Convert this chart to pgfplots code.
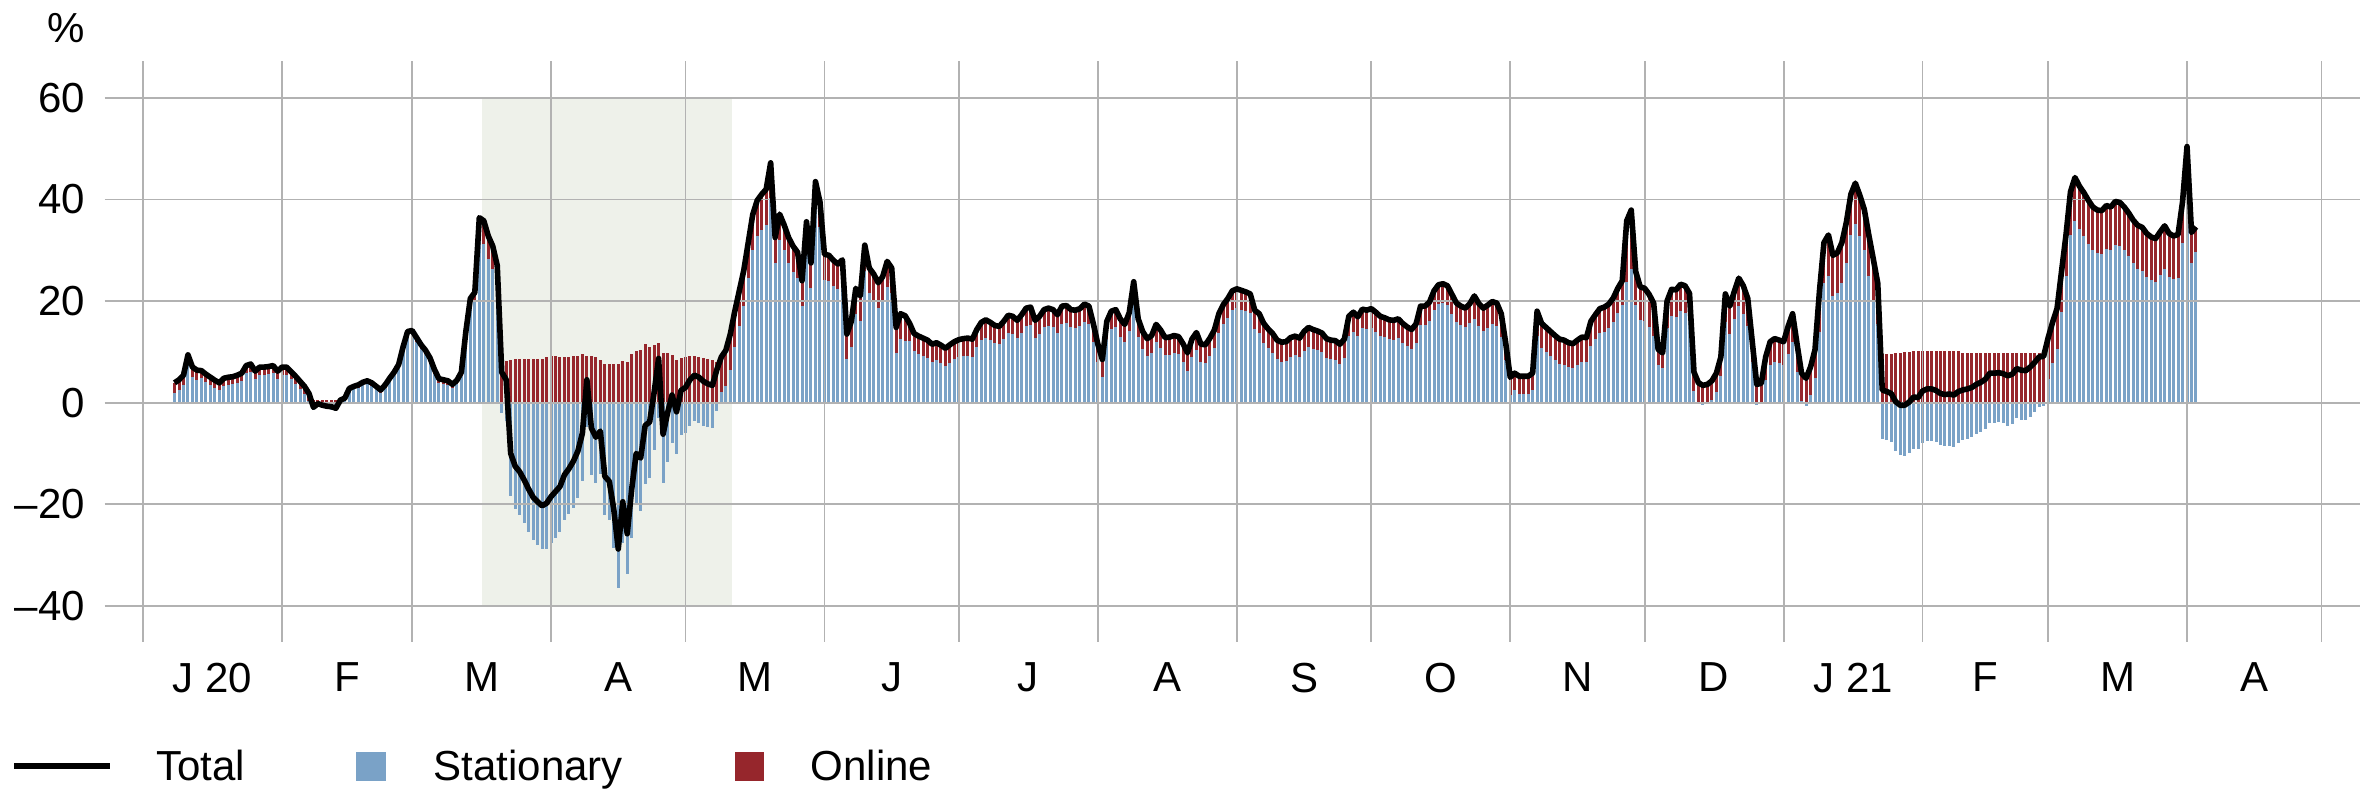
\documentclass[border=0pt]{standalone}
\usepackage{fontspec}
\setmainfont{Liberation Sans}
\usepackage{pgfplots}
\usepackage{pgfplotstable}
\pgfplotsset{compat=1.18}

\definecolor{statblue}{RGB}{122,162,199}
\definecolor{onlred}{RGB}{150,38,44}
\definecolor{gridgray}{RGB}{178,178,178}
\definecolor{lockdown}{RGB}{238,241,234}

% grid above the bars, total line above the grid
\pgfplotsset{
  layers/chartlayers/.define layer set={axis background,pre main,axis grid,axis ticks,axis lines,axis tick labels,main,axis descriptions,axis foreground}{},
}

% d = day (0 = 1 Jan 2020), t = total, o = online contribution (pp)
\pgfplotstableread[row sep=\\]{
d t o \\
7 3.9 2.0 \\ 8 4.5 2.0 \\ 9 5.4 2.0 \\ 10 9.4 2.0 \\ 11 7.0 2.0 \\ 12 6.4 2.0 \\
13 6.3 1.5 \\ 14 5.6 1.5 \\ 15 5.0 1.5 \\ 16 4.4 1.5 \\ 17 3.9 1.5 \\ 18 4.8 1.5 \\ 19 5.0 1.5 \\ 20 5.1 1.5 \\
21 5.4 1.5 \\ 22 5.8 1.5 \\ 23 7.3 1.5 \\ 24 7.6 1.5 \\ 25 6.2 1.5 \\ 26 7.0 1.5 \\ 27 7.0 1.5 \\ 28 7.1 1.5 \\
29 7.3 1.5 \\ 30 6.2 1.5 \\ 31 7.0 1.5 \\ 32 7.0 1.5 \\ 33 6.1 1.5 \\ 34 5.2 1.5 \\ 35 4.2 1.5 \\ 36 3.2 1.5 \\
37 1.8 1.5 \\ 38 -0.9 0.6 \\ 39 -0.2 0.6 \\ 40 -0.5 0.6 \\ 41 -0.7 0.6 \\ 42 -0.8 0.6 \\ 43 -1.1 0.6 \\ 44 0.5 0.6 \\
45 0.9 0.6 \\ 46 2.8 0.6 \\ 47 3.2 0.6 \\ 48 3.5 0.6 \\ 49 4.0 0.6 \\ 50 4.3 0.6 \\ 51 3.9 0.6 \\ 52 3.2 0.6 \\
53 2.5 0.6 \\ 54 3.5 0.6 \\ 55 4.8 0.6 \\ 56 6.0 0.6 \\ 57 7.5 0.6 \\ 58 11.0 0.8 \\ 59 14.0 0.8 \\ 60 14.2 0.8 \\
61 12.8 0.8 \\ 62 11.4 0.8 \\ 63 10.3 0.8 \\ 64 8.8 0.8 \\ 65 6.5 0.8 \\ 66 4.7 0.8 \\ 67 4.5 0.8 \\ 68 4.3 0.8 \\
69 3.6 0.8 \\ 70 4.4 0.8 \\ 71 6.0 0.8 \\ 72 14.0 1.5 \\ 73 20.5 1.5 \\ 74 21.7 1.5 \\ 75 36.4 4.5 \\ 76 35.8 4.5 \\
77 32.8 4.5 \\ 78 30.8 4.5 \\ 79 27.0 4.5 \\ 80 6.0 8.0 \\ 81 4.5 8.2 \\ 82 -10.0 8.4 \\ 83 -12.5 8.5 \\ 84 -13.6 8.5 \\
85 -15.2 8.5 \\ 86 -17.0 8.5 \\ 87 -18.6 8.5 \\ 88 -19.5 8.5 \\ 89 -20.3 8.5 \\ 90 -19.8 9.0 \\ 91 -18.5 9.2 \\ 92 -17.5 9.2 \\
93 -16.5 8.9 \\ 94 -14.2 8.9 \\ 95 -13.0 9.0 \\ 96 -11.5 9.2 \\ 97 -9.5 9.2 \\ 98 -6.0 9.5 \\ 99 4.5 9.2 \\ 100 -5.0 9.2 \\
101 -6.8 9.0 \\ 102 -5.6 8.4 \\ 103 -14.5 7.6 \\ 104 -15.5 7.6 \\ 105 -21.0 7.6 \\ 106 -28.8 7.7 \\ 107 -19.5 8.2 \\ 108 -25.8 8.0 \\
109 -17.0 9.6 \\ 110 -10.0 10.2 \\ 111 -10.9 10.4 \\ 112 -4.5 11.6 \\ 113 -3.8 11.0 \\ 114 2.0 11.3 \\ 115 8.7 11.8 \\ 116 -6.2 9.7 \\
117 -2.0 9.7 \\ 118 1.5 9.4 \\ 119 -1.8 8.4 \\ 120 2.4 8.8 \\ 121 3.0 9.0 \\ 122 4.5 9.1 \\ 123 5.4 9.1 \\ 124 5.0 9.0 \\
125 4.2 8.7 \\ 126 3.7 8.5 \\ 127 3.4 8.3 \\ 128 6.5 8.1 \\ 129 9.0 7.0 \\ 130 10.3 7.0 \\ 131 13.5 7.0 \\ 132 18.0 7.0 \\
133 22.0 7.0 \\ 134 26.0 7.0 \\ 135 31.5 7.0 \\ 136 37.0 7.0 \\ 137 39.8 7.0 \\ 138 41.0 7.0 \\ 139 42.0 7.0 \\ 140 47.2 7.0 \\
141 32.5 5.0 \\ 142 37.1 5.0 \\ 143 35.0 5.0 \\ 144 32.5 5.0 \\ 145 30.8 5.0 \\ 146 29.6 5.0 \\ 147 24.0 5.0 \\ 148 35.6 5.0 \\
149 27.5 5.0 \\ 150 43.5 5.0 \\ 151 39.5 5.0 \\ 152 29.2 5.0 \\ 153 29.0 5.0 \\ 154 28.0 5.0 \\ 155 27.3 5.0 \\ 156 28.1 5.0 \\
157 13.5 5.0 \\ 158 16.0 5.0 \\ 159 22.5 5.0 \\ 160 21.0 5.0 \\ 161 31.0 5.0 \\ 162 26.5 5.0 \\ 163 25.3 5.0 \\ 164 23.6 5.0 \\
165 24.8 5.0 \\ 166 27.8 5.0 \\ 167 26.5 5.0 \\ 168 14.8 5.0 \\ 169 17.5 5.0 \\ 170 17.1 5.0 \\ 171 15.6 3.5 \\ 172 13.6 3.5 \\
173 13.1 3.5 \\ 174 12.7 3.5 \\ 175 12.3 3.5 \\ 176 11.5 3.5 \\ 177 11.8 3.5 \\ 178 11.3 3.5 \\ 179 10.7 3.5 \\ 180 11.4 3.5 \\
181 12.0 3.5 \\ 182 12.4 3.5 \\ 183 12.6 3.5 \\ 184 12.7 3.5 \\ 185 12.5 3.5 \\ 186 14.4 3.5 \\ 187 15.8 3.5 \\ 188 16.3 3.5 \\
189 15.8 3.5 \\ 190 15.2 3.5 \\ 191 15.0 3.5 \\ 192 16.0 3.5 \\ 193 17.2 3.5 \\ 194 17.0 3.5 \\ 195 16.2 3.5 \\ 196 17.3 3.5 \\
197 18.6 3.5 \\ 198 18.8 3.5 \\ 199 16.2 3.5 \\ 200 17.0 3.5 \\ 201 18.3 3.5 \\ 202 18.6 3.5 \\ 203 18.3 3.5 \\ 204 17.3 3.5 \\
205 19.0 3.5 \\ 206 19.1 3.5 \\ 207 18.3 3.5 \\ 208 18.2 3.5 \\ 209 18.5 3.5 \\ 210 19.4 3.5 \\ 211 19.0 3.5 \\ 212 15.5 3.5 \\
213 11.5 3.5 \\ 214 8.5 3.5 \\ 215 16.0 3.5 \\ 216 18.0 3.5 \\ 217 18.3 3.5 \\ 218 16.5 3.5 \\ 219 15.4 3.5 \\ 220 17.7 3.5 \\
221 23.8 3.5 \\ 222 16.5 3.5 \\ 223 14.0 3.5 \\ 224 12.6 3.5 \\ 225 13.2 3.5 \\ 226 15.4 3.5 \\ 227 14.3 3.5 \\ 228 12.8 3.5 \\
229 12.9 3.5 \\ 230 13.2 3.5 \\ 231 13.0 3.5 \\ 232 11.6 3.5 \\ 233 9.8 3.5 \\ 234 12.5 3.5 \\ 235 13.8 3.5 \\ 236 11.5 3.5 \\
237 11.4 3.5 \\ 238 12.7 3.5 \\ 239 14.3 3.5 \\ 240 17.5 3.8 \\ 241 19.3 3.8 \\ 242 20.5 3.8 \\ 243 22.0 3.8 \\ 244 22.4 3.8 \\
245 22.1 3.8 \\ 246 21.8 3.8 \\ 247 21.4 3.8 \\ 248 18.2 3.8 \\ 249 17.5 3.8 \\ 250 15.6 3.8 \\ 251 14.5 3.8 \\ 252 13.6 3.8 \\
253 12.3 3.8 \\ 254 11.9 3.8 \\ 255 12.0 3.8 \\ 256 12.8 3.8 \\ 257 13.1 3.8 \\ 258 12.7 3.8 \\ 259 14.0 3.8 \\ 260 14.8 3.8 \\
261 14.4 3.8 \\ 262 14.1 3.8 \\ 263 13.7 3.8 \\ 264 12.6 3.8 \\ 265 12.3 3.8 \\ 266 12.2 3.8 \\ 267 11.5 3.8 \\ 268 12.5 3.8 \\
269 17.0 3.8 \\ 270 17.8 3.8 \\ 271 16.9 3.8 \\ 272 18.4 3.8 \\ 273 18.2 3.8 \\ 274 18.5 3.8 \\ 275 17.8 3.8 \\ 276 17.0 3.8 \\
277 16.7 3.8 \\ 278 16.3 3.8 \\ 279 16.2 3.8 \\ 280 16.5 3.8 \\ 281 15.6 3.8 \\ 282 14.9 3.8 \\ 283 14.4 3.8 \\ 284 15.5 3.8 \\
285 19.0 3.8 \\ 286 19.0 3.8 \\ 287 19.8 3.8 \\ 288 22.0 3.8 \\ 289 23.2 3.8 \\ 290 23.4 3.8 \\ 291 23.0 3.8 \\ 292 21.3 3.8 \\
293 19.6 3.8 \\ 294 19.0 3.8 \\ 295 18.6 3.8 \\ 296 19.5 3.8 \\ 297 21.0 4.5 \\ 298 19.5 4.5 \\ 299 18.6 4.5 \\ 300 19.2 4.5 \\
301 19.9 4.5 \\ 302 19.6 4.5 \\ 303 17.5 4.5 \\ 304 11.7 3.4 \\ 305 5.0 3.4 \\ 306 5.8 3.4 \\ 307 5.2 3.4 \\ 308 5.2 3.4 \\
309 5.2 3.4 \\ 310 5.8 3.4 \\ 311 18.0 4.8 \\ 312 15.6 4.8 \\ 313 14.8 4.8 \\ 314 14.0 4.8 \\ 315 13.2 4.8 \\ 316 12.5 4.8 \\
317 12.3 4.8 \\ 318 11.8 4.8 \\ 319 11.6 4.8 \\ 320 12.3 4.8 \\ 321 12.9 4.8 \\ 322 12.8 4.8 \\ 323 16.0 4.8 \\ 324 17.3 4.8 \\
325 18.5 4.8 \\ 326 18.8 4.8 \\ 327 19.4 4.8 \\ 328 20.6 4.8 \\ 329 22.5 4.8 \\ 330 24.0 4.8 \\ 331 35.8 12.0 \\ 332 37.9 11.5 \\
333 25.8 6.5 \\ 334 22.8 6.5 \\ 335 22.5 6.5 \\ 336 21.3 6.5 \\ 337 19.6 6.5 \\ 338 10.5 3.0 \\ 339 9.8 3.0 \\ 340 20.0 5.3 \\
341 22.3 5.3 \\ 342 22.2 5.3 \\ 343 23.3 5.3 \\ 344 23.0 5.3 \\ 345 21.5 5.3 \\ 346 6.0 3.8 \\ 347 3.9 3.8 \\ 348 3.4 3.8 \\
349 3.6 3.8 \\ 350 4.3 3.8 \\ 351 5.8 3.8 \\ 352 9.0 3.8 \\ 353 21.4 5.5 \\ 354 19.0 5.5 \\ 355 21.9 5.5 \\ 356 24.5 5.5 \\
357 23.0 5.5 \\ 358 20.5 5.5 \\ 359 12.0 4.0 \\ 360 3.6 4.0 \\ 361 3.8 4.0 \\ 362 9.0 4.5 \\ 363 12.0 4.5 \\ 364 12.6 4.5 \\
365 12.3 4.5 \\ 366 12.0 4.5 \\ 367 15.0 5.5 \\ 368 17.5 5.5 \\ 369 11.5 5.5 \\ 370 5.8 5.5 \\ 371 4.8 5.5 \\ 372 7.0 5.5 \\
373 10.4 5.5 \\ 374 22.0 8.0 \\ 375 31.5 8.0 \\ 376 33.0 8.0 \\ 377 29.0 8.0 \\ 378 29.5 8.0 \\ 379 31.5 8.0 \\ 380 35.5 8.0 \\
381 41.0 8.0 \\ 382 43.2 8.0 \\ 383 40.8 8.0 \\ 384 38.0 8.0 \\ 385 33.0 8.0 \\ 386 28.3 8.0 \\ 387 23.5 8.0 \\ 388 2.5 9.6 \\
389 2.2 9.6 \\ 390 1.8 9.6 \\ 391 0.2 9.7 \\ 392 -0.5 9.8 \\ 393 -0.5 9.9 \\ 394 0.1 10.0 \\ 395 1.1 10.2 \\ 396 1.0 10.2 \\
397 2.3 10.2 \\ 398 2.7 10.2 \\ 399 2.7 10.2 \\ 400 2.4 10.2 \\ 401 1.8 10.2 \\ 402 1.6 10.2 \\ 403 1.7 10.2 \\ 404 1.5 10.2 \\
405 2.2 10.2 \\ 406 2.5 9.8 \\ 407 2.7 9.8 \\ 408 3.0 9.8 \\ 409 3.6 9.8 \\ 410 4.0 9.8 \\ 411 4.6 9.8 \\ 412 5.8 9.8 \\
413 5.8 9.8 \\ 414 5.9 9.8 \\ 415 5.7 9.8 \\ 416 5.3 9.8 \\ 417 5.6 9.8 \\ 418 6.7 9.8 \\ 419 6.4 9.8 \\ 420 6.3 9.8 \\
421 7.0 9.8 \\ 422 7.9 9.8 \\ 423 9.0 9.8 \\ 424 9.1 9.8 \\ 425 12.7 8.0 \\ 426 15.8 8.0 \\ 427 18.5 8.0 \\ 428 25.8 8.0 \\
429 33.0 8.0 \\ 430 41.5 8.5 \\ 431 44.3 8.5 \\ 432 42.6 8.5 \\ 433 41.3 8.5 \\ 434 39.8 8.5 \\ 435 38.5 8.5 \\ 436 37.9 8.5 \\
437 37.8 8.5 \\ 438 38.8 8.5 \\ 439 38.5 8.5 \\ 440 39.6 8.5 \\ 441 39.4 8.5 \\ 442 38.5 8.5 \\ 443 37.3 8.5 \\ 444 35.9 8.5 \\
445 34.9 8.5 \\ 446 34.5 8.5 \\ 447 33.3 8.5 \\ 448 32.6 8.5 \\ 449 32.3 8.5 \\ 450 33.6 8.5 \\ 451 34.8 8.5 \\ 452 33.3 8.5 \\
453 32.8 8.5 \\ 454 33.1 8.5 \\ 455 39.5 8.0 \\ 456 50.4 8.0 \\ 457 33.5 6.0 \\ 458 34.6 5.0 \\
}\retail

\begin{document}
\begin{tikzpicture}[font=\fontsize{10.5}{12.6}\selectfont]
\path (0,0) rectangle (590.75pt,197.25pt);
\begin{axis}[
    set layers=chartlayers,
    at={(26.15pt,36.75pt)}, anchor=south west,
    scale only axis,
    width=563.85pt, height=145.2pt,
    xmin=-8.6, xmax=494.6,
    ymin=-47.1, ymax=67.2,
    axis line style={draw=none},
    tick style={draw=none},
    xtick={15.5,45.5,75.5,106,136.5,167,197.5,228.5,259,289.5,320,350.5,381.5,411,440.5,471},
    xticklabels={J 20,F,M,A,M,J,J,A,S,O,N,D,J 21,F,M,A},
    minor xtick={0,31,60,91,121,152,182,213,244,274,305,335,366,397,425,456,486},
    xmajorgrids=false, xminorgrids=true,
    ytick={-40,-20,0,20,40,60},
    yticklabels={–40,–20,0,20,40,60},
    ymajorgrids=true,
    grid style={gridgray, line width=0.45pt},
    minor grid style={gridgray, line width=0.45pt},
    tick label style={font=\fontsize{10.5}{12.6}\selectfont},
    xticklabel style={anchor=north, inner sep=0pt, yshift=-5pt},
    yticklabel style={anchor=east, inner sep=0pt, xshift=-4.7pt},
]
% lockdown period
\addplot[fill=lockdown, draw=none, on layer=axis background] coordinates {(75.5,-40) (131.3,-40) (131.3,60) (75.5,60)} -- cycle;
% online on top of positive stationary, from zero when stationary is negative
\addplot[ycomb, draw=onlred, line width=0.75pt, mark=none, on layer=pre main]
  table[x=d, y expr={max(\thisrow{t},\thisrow{o})}] {\retail};
\addplot[ycomb, draw=statblue, line width=0.75pt, mark=none, on layer=pre main]
  table[x=d, y expr={\thisrow{t}-\thisrow{o}}] {\retail};
\addplot[black, line width=1.4pt, line join=round, mark=none] table[x=d, y=t] {\retail};
\end{axis}
\node[anchor=east, inner sep=0pt] at (21.4pt,190.3pt) {\%};
% legend
\draw[line width=1.5pt] (3.6pt,5.75pt) -- (27.4pt,5.75pt);
\node[anchor=base west, inner sep=0pt, text depth=0pt] at (38.9pt,2pt) {Total};
\fill[statblue] (88.9pt,2pt) rectangle (96.5pt,9.25pt);
\node[anchor=base west, inner sep=0pt, text depth=0pt] at (108.2pt,2pt) {Stationary};
\fill[onlred] (183.7pt,2pt) rectangle (191.1pt,9.25pt);
\node[anchor=base west, inner sep=0pt, text depth=0pt] at (202.5pt,2pt) {Online};
\end{tikzpicture}
\end{document}
